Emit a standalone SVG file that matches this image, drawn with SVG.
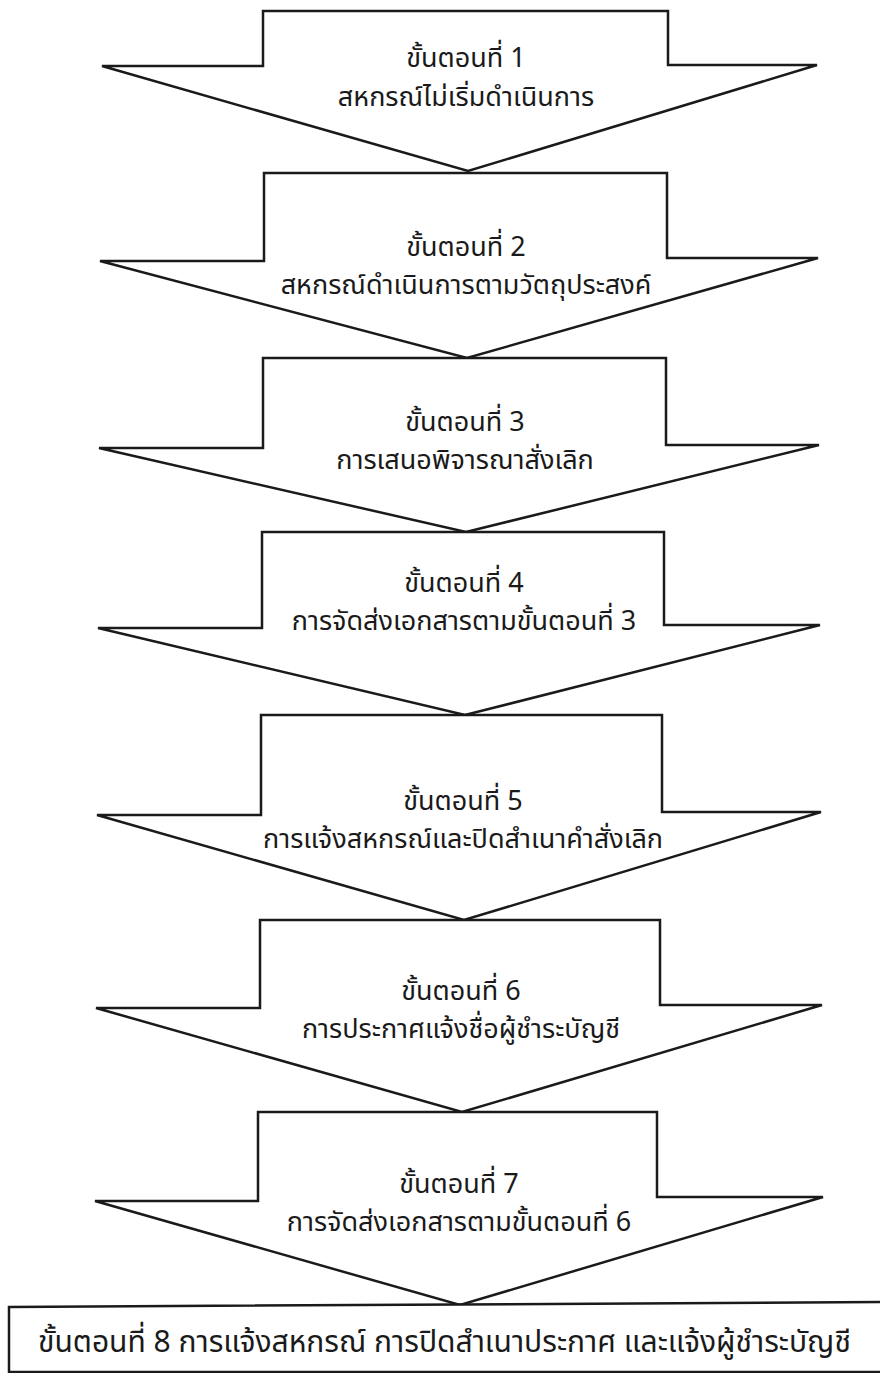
<svg xmlns="http://www.w3.org/2000/svg" width="880" height="1373" viewBox="0 0 880 1373">
<style>
.a{fill:#fff;stroke:#1a1a1a;stroke-width:2.5;stroke-linejoin:miter}
.t{font-family:"Noto Sans Thai","Noto Sans","DejaVu Sans",sans-serif;font-size:27px;fill:#1a1a1a;text-anchor:middle}
.tb{font-family:"Noto Sans Thai","Noto Sans","DejaVu Sans",sans-serif;font-size:30px;fill:#1a1a1a;text-anchor:start}
</style>
<rect width="880" height="1373" fill="#fff"/>
<g id="step1">
<path class="a" d="M263,11 H668 V65 H817 L468,171 L102,66 H263 Z"/>
<text class="t" x="466" y="67">ขั้นตอนที่ 1</text>
<text class="t" x="466" y="106">สหกรณ์ไม่เริ่มดำเนินการ</text>
</g>
<g id="step2">
<path class="a" d="M264,173 H667 V258 H818 L467,358 L100,261 H264 Z"/>
<text class="t" x="466" y="256">ขั้นตอนที่ 2</text>
<text class="t" x="466" y="294">สหกรณ์ดำเนินการตามวัตถุประสงค์</text>
</g>
<g id="step3">
<path class="a" d="M263,358 H666 V445 H819 L466,532 L99,448 H263 Z"/>
<text class="t" x="465" y="431">ขั้นตอนที่ 3</text>
<text class="t" x="465" y="469">การเสนอพิจารณาสั่งเลิก</text>
</g>
<g id="step4">
<path class="a" d="M262,532 H664 V625 H820 L465,715 L98,628 H262 Z"/>
<text class="t" x="464" y="592">ขั้นตอนที่ 4</text>
<text class="t" x="464" y="630">การจัดส่งเอกสารตามขั้นตอนที่ 3</text>
</g>
<g id="step5">
<path class="a" d="M261,715 H662 V812 H821 L464,920 L97,815 H261 Z"/>
<text class="t" x="463" y="810">ขั้นตอนที่ 5</text>
<text class="t" x="463" y="848">การแจ้งสหกรณ์และปิดสำเนาคำสั่งเลิก</text>
</g>
<g id="step6">
<path class="a" d="M260,920 H660 V1005 H822 L462,1112 L96,1008 H260 Z"/>
<text class="t" x="461" y="1000">ขั้นตอนที่ 6</text>
<text class="t" x="461" y="1038">การประกาศแจ้งชื่อผู้ชำระบัญชี</text>
</g>
<g id="step7">
<path class="a" d="M258,1112 H657 V1197 H823 L460,1305 L95,1201 H258 Z"/>
<text class="t" x="459" y="1193">ขั้นตอนที่ 7</text>
<text class="t" x="459" y="1231">การจัดส่งเอกสารตามขั้นตอนที่ 6</text>
</g>
<g id="step8">
<path class="a" d="M9,1307 L890,1302 V1372 H9 Z"/>
<text class="tb" x="38" y="1352">ขั้นตอนที่ 8 การแจ้งสหกรณ์ การปิดสำเนาประกาศ และแจ้งผู้ชำระบัญชี</text>
</g>
</svg>
